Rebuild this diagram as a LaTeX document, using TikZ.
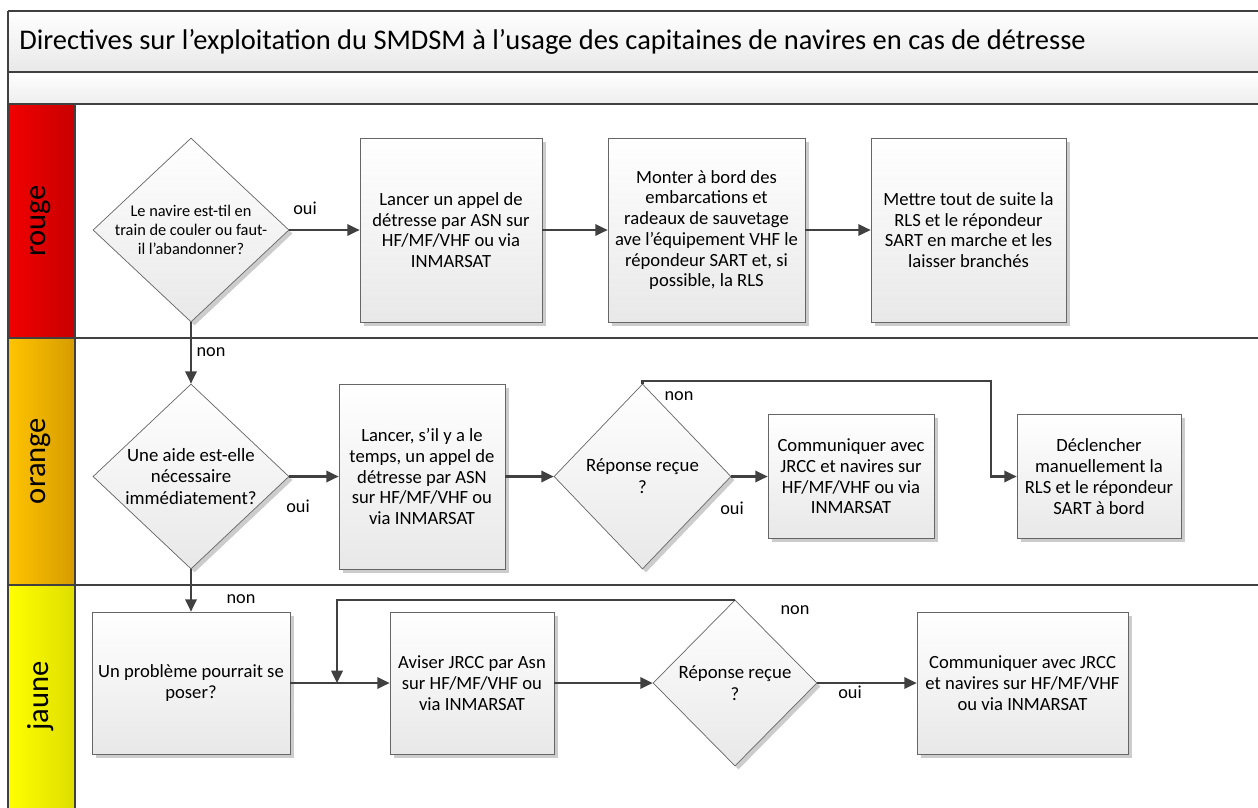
\documentclass[tikz,border=0pt]{standalone}
\usepackage{fontspec}
\setmainfont{Carlito}
\usetikzlibrary{shapes.geometric, arrows.meta, shadows}
\definecolor{trait}{RGB}{64,64,64}
\definecolor{rougeA}{RGB}{242,0,0}
\definecolor{rougeB}{RGB}{200,0,0}
\definecolor{orangeA}{RGB}{255,196,0}
\definecolor{orangeB}{RGB}{214,156,0}
\definecolor{jauneA}{RGB}{255,255,0}
\definecolor{jauneB}{RGB}{222,222,0}
\tikzset{sz/.style 2 args={minimum width=#1*0.02cm, minimum height=#2*0.02cm}}
\tikzstyle{process} = [rectangle, draw=black!60, top color=white, bottom color=black!9, drop shadow={shadow xshift=2pt, shadow yshift=-2pt, opacity=0.2, fill=black}, align=center, inner sep=0pt, font=\fontsize{10.6}{11.8}\selectfont]
\tikzstyle{decision} = [diamond, shape aspect=1.07, draw=black!60, top color=white, bottom color=black!9, drop shadow={shadow xshift=2pt, shadow yshift=-2pt, opacity=0.2, fill=black}, align=center, inner sep=-6pt, font=\fontsize{10.7}{12.4}\selectfont]
\tikzstyle{arrow} = [line width=1.2pt, trait, -{Triangle[length=7pt,width=6.5pt]}]
\tikzstyle{frame} = [line width=1pt, trait]
\tikzstyle{lbl} = [inner sep=0pt, font=\fontsize{10.4}{11}\selectfont]
\tikzstyle{lanename} = [rotate=90, inner sep=0pt, font=\fontsize{17.4}{19}\selectfont]

\begin{document}
\begin{tikzpicture}[x=0.02cm,y=-0.02cm]
\useasboundingbox (0,0) rectangle (1258,808);
\fill[top color=white,bottom color=black!9] (8,11) rectangle (1258,72);
\fill[top color=white,bottom color=black!7] (8,72) rectangle (1258,104);
\fill[left color=rougeA,right color=rougeB] (8,104) rectangle (75,338);
\fill[left color=orangeA,right color=orangeB] (8,338) rectangle (75,585);
\fill[left color=jauneA,right color=jauneB] (8,585) rectangle (75,808);

\foreach \y in {11,72,104,338,585}{
	\draw[frame] (8,\y)--(1258,\y);}
\draw[frame] (8,11)--(8,808);
\draw[frame] (75,104)--(75,808);

\node[anchor=west, inner sep=0pt, font=\fontsize{16.2}{18}\selectfont] (titre) at (19,42) {Directives sur l’exploitation du SMDSM à l’usage des capitaines de navires en cas de détresse};
\node[lanename] (rouge) at (41,221) {rouge};
\node[lanename] (orange) at (41,461) {orange};
\node[lanename] (jaune) at (41,696) {jaune};

% rouge
\node[decision, sz={196}{184}, font=\fontsize{9.3}{10.6}\selectfont] (navire) at (191,230) {Le navire est-til en\\train de couler ou faut-\\il l’abandonner?};
\node[process, sz={182}{184}] (appel) at (451,230) {Lancer un appel de\\détresse par ASN sur\\HF/MF/VHF ou via\\INMARSAT};
\node[process, sz={197}{184}] (monter) at (706.5,230) {Monter à bord des\\embarcations et\\radeaux de sauvetage\\ave l’équipement VHF le\\répondeur SART et, si\\possible, la RLS};
\node[process, sz={195}{184}] (mettre) at (968.5,230) {Mettre tout de suite la\\RLS et le répondeur\\SART en marche et les\\laisser branchés};

% orange
\node[decision, sz={196}{185}] (aide) at (191,476.5) {Une aide est-elle\\nécessaire\\immédiatement?};
\node[process, sz={166}{185}] (lancer) at (422,476.5) {Lancer, s’il y a le\\temps, un appel de\\détresse par ASN\\sur HF/MF/VHF ou\\via INMARSAT};
\node[decision, sz={177}{185}] (reponseA) at (642.5,476.5) {Réponse reçue\\?};
\node[process, sz={166}{124}] (commA) at (851,476.5) {Communiquer avec\\JRCC et navires sur\\HF/MF/VHF ou via\\INMARSAT};
\node[process, sz={164}{124}] (declencher) at (1099,476.5) {Déclencher\\manuellement la\\RLS et le répondeur\\SART à bord};
\coordinate (coinA) at (991,381);

% jaune
\node[process, sz={198}{142}] (probleme) at (191,683) {Un problème pourrait se\\poser?};
\node[process, sz={164}{142}] (aviser) at (472,683) {Aviser JRCC par Asn\\sur HF/MF/VHF ou\\via INMARSAT};
\node[decision, sz={164}{166}] (reponseB) at (735,683) {Réponse reçue\\?};
\node[process, sz={211}{142}] (commB) at (1022.5,683) {Communiquer avec JRCC\\et navires sur HF/MF/VHF\\ou via INMARSAT};
\coordinate (jonction) at (337,683);

\draw[arrow] (navire)--(appel);
\draw[arrow] (appel)--(monter);
\draw[arrow] (monter)--(mettre);
\draw[arrow] (navire)--(aide);
\draw[arrow] (aide)--(lancer);
\draw[arrow] (lancer)--(reponseA);
\draw[arrow] (reponseA)--(commA);
\draw[arrow] (reponseA.north)|-(coinA)|-(declencher.west);
\draw[arrow] (aide)--(probleme);
\draw[arrow] (probleme)--(aviser);
\draw[arrow] (aviser)--(reponseB);
\draw[arrow] (reponseB)--(commB);
\draw[arrow] (reponseB.north)-|(jonction);

\node[lbl] (oui1) at (305,208) {oui};
\node[lbl] (non1) at (211,352) {non};
\node[lbl] (oui2) at (298,506) {oui};
\node[lbl] (non2) at (679,396) {non};
\node[lbl] (oui3) at (732,508) {oui};
\node[lbl] (non3) at (241,599) {non};
\node[lbl] (non4) at (795,610) {non};
\node[lbl] (oui4) at (850,692) {oui};
\end{tikzpicture}
\end{document}
